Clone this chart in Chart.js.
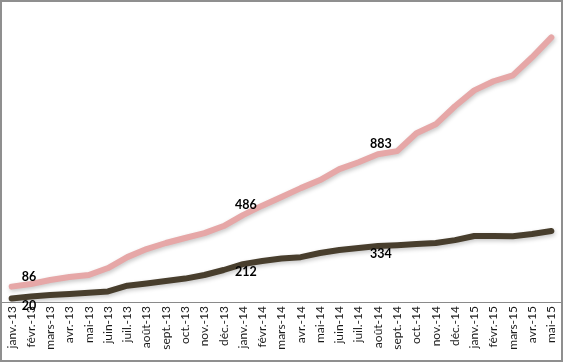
<!DOCTYPE html>
<html>
<head>
<meta charset="utf-8">
<script src="https://cdn.jsdelivr.net/npm/chart.js@4/dist/chart.umd.min.js"></script>
<style>
  html, body { margin: 0; padding: 0; background: #fff; }
  #box { width: 563px; height: 362px; box-sizing: border-box; border: 2px solid #8f8f8f; }
  canvas { display: block; }
</style>
</head>
<body>
<div id="box"><canvas id="chart" width="559" height="358"></canvas></div>
<script>
const months = ['janv.-13', 'févr.-13', 'mars-13', 'avr.-13', 'mai-13', 'juin-13', 'juil.-13', 'août-13',
    'sept.-13', 'oct.-13', 'nov.-13', 'déc.-13', 'janv.-14', 'févr.-14', 'mars-14', 'avr.-14', 'mai-14',
    'juin-14', 'juil.-14', 'août-14', 'sept.-14', 'oct.-14', 'nov.-14', 'déc.-14', 'janv.-15', 'févr.-15',
    'mars-15', 'avr.-15', 'mai-15']

const pinkValues = [86, 101, 123, 140, 151, 190, 251, 296, 330, 358, 385, 425, 486, 539, 587, 637, 682,
    743, 782, 827, 844, 944, 994, 1095, 1184, 1235, 1268, 1369, 1480]
const darkValues = [20, 31, 39, 45, 52, 59, 91, 103, 117, 131, 151, 179, 212, 229, 243, 251, 274,
    291, 302, 313, 318, 324, 330, 346, 369, 369, 368, 380, 397]

// labels printed on the chart: [index, text]
const pinkNotes = [[0, '86'], [12, '486'], [19, '883']]
const darkNotes = [[0, '20'], [12, '212'], [19, '334']]

const shadowPlugin = {
    id: 'lineShadow',
    beforeDatasetDraw(chart) {
        const ctx = chart.ctx
        ctx.save()
        ctx.shadowColor = 'rgba(0,0,0,0.22)'
        ctx.shadowBlur = 4
        ctx.shadowOffsetX = 1
        ctx.shadowOffsetY = 2
    },
    afterDatasetDraw(chart) {
        chart.ctx.restore()
    }
}

const notesPlugin = {
    id: 'notes',
    afterDatasetsDraw(chart) {
        const ctx = chart.ctx
        const x = chart.scales.x
        const y = chart.scales.y
        ctx.save()
        ctx.font = 'bold 12.5px Lato, sans-serif'
        ctx.fillStyle = '#000'
        ctx.textBaseline = 'middle'
        const put = (notes, values, dy) => {
            for (const [i, text] of notes) {
                const px = x.getPixelForValue(i)
                const py = y.getPixelForValue(values[i])
                if (i === 0) {
                    ctx.textAlign = 'left'
                    ctx.fillText(text, px + 10, py + dy)
                } else {
                    ctx.textAlign = 'center'
                    ctx.fillText(text, px + 3, py + dy)
                }
            }
        }
        put(pinkNotes, pinkValues, -10)
        put(darkNotes, darkValues, 8)
        ctx.restore()
    }
}

new Chart(document.getElementById('chart'), {
    type: 'line',
    data: {
        labels: months,
        datasets: [{
            data: pinkValues,
            borderColor: '#e6a7a7',
            borderWidth: 6,
            pointRadius: 0,
            tension: 0,
            borderCapStyle: 'round',
            borderJoinStyle: 'round'
        }, {
            data: darkValues,
            borderColor: '#483e2d',
            borderWidth: 6,
            pointRadius: 0,
            tension: 0,
            borderCapStyle: 'round',
            borderJoinStyle: 'round'
        }]
    },
    options: {
        responsive: false,
        animation: false,
        layout: { padding: { top: 14, left: 0, right: 0, bottom: 0 } },
        plugins: {
            legend: { display: false },
            tooltip: { enabled: false }
        },
        scales: {
            x: {
                offset: true,
                grid: { display: false, drawTicks: false },
                border: { display: true, color: '#8a8a8a', width: 1 },
                ticks: {
                    autoSkip: false,
                    minRotation: 90,
                    maxRotation: 90,
                    padding: 4,
                    color: '#1a1a1a',
                    font: { family: 'Lato', size: 12 }
                },
                afterFit(scale) {
                    scale.height = 58
                    scale.paddingLeft = 0
                    scale.paddingRight = 0
                }
            },
            y: {
                display: false,
                min: 0,
                max: 1600
            }
        }
    },
    plugins: [shadowPlugin, notesPlugin]
})
</script>
</body>
</html>
